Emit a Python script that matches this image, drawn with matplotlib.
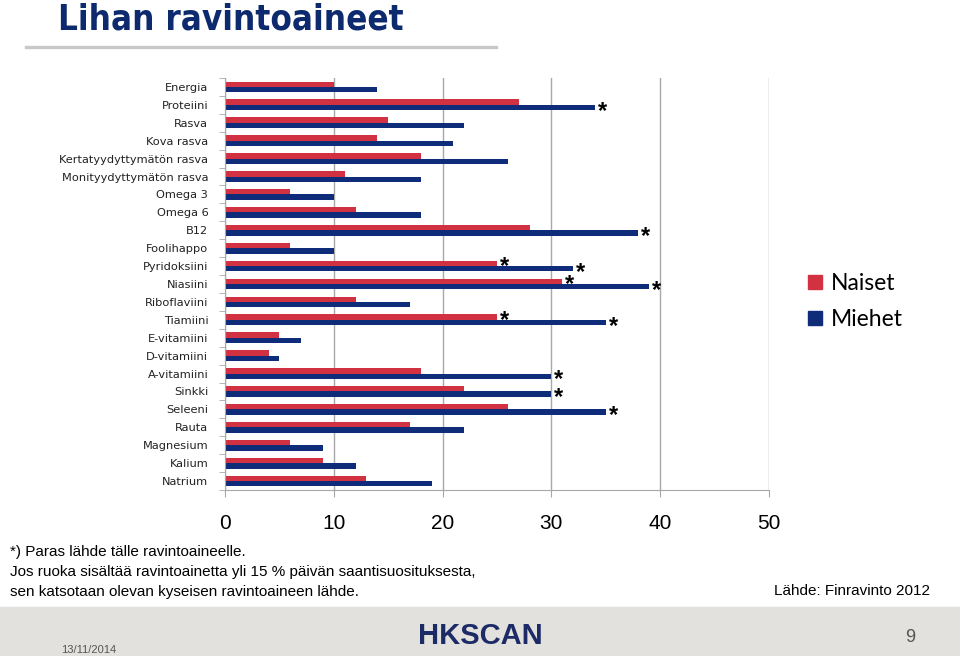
import matplotlib
matplotlib.use("Agg")
import matplotlib.pyplot as plt
from matplotlib.patches import Patch, Rectangle
from matplotlib.lines import Line2D
import numpy as np

categories = ["Energia", "Proteiini", "Rasva", "Kova rasva",
              "Kertatyydyttymätön rasva", "Monityydyttymätön rasva",
              "Omega 3", "Omega 6", "B12", "Foolihappo", "Pyridoksiini",
              "Niasiini", "Riboflaviini", "Tiamiini", "E-vitamiini",
              "D-vitamiini", "A-vitamiini", "Sinkki", "Seleeni", "Rauta",
              "Magnesium", "Kalium", "Natrium"]
naiset = [10, 27, 15, 14, 18, 11, 6, 12, 28, 6, 25, 31, 12, 25, 5, 4, 18,
          22, 26, 17, 6, 9, 13]
miehet = [14, 34, 22, 21, 26, 18, 10, 18, 38, 10, 32, 39, 17, 35, 7, 5, 30,
          30, 35, 22, 9, 12, 19]
# which bars are marked "best source" (*)
star_naiset = ["Pyridoksiini", "Niasiini", "Tiamiini"]
star_miehet = ["Proteiini", "B12", "Pyridoksiini", "Niasiini", "Tiamiini",
               "A-vitamiini", "Sinkki", "Seleeni"]
xticks = [0, 10, 20, 30, 40, 50]

red = "#d23142"
blue = "#0f2c7a"
grid_col = "#a8a8a8"

fig = plt.figure(figsize=(9.6, 6.56), dpi=100)
ax = fig.add_axes([225 / 960, 1 - 490 / 656, 544 / 960, 412 / 656])

y = np.arange(len(categories))
h = 0.3
ax.barh(y - h / 2, naiset, height=h, color=red, label="Naiset")
ax.barh(y + h / 2, miehet, height=h, color=blue, label="Miehet")

for i, c in enumerate(categories):
    if c in star_naiset:
        ax.text(naiset[i] + 0.25, i - h / 2 + 0.2, "*", fontsize=17,
                ha="left", va="center", family="Liberation Sans",
                fontweight="bold")
    if c in star_miehet:
        ax.text(miehet[i] + 0.25, i + h / 2 + 0.2, "*", fontsize=17,
                ha="left", va="center", family="Liberation Sans",
                fontweight="bold")

ax.set_xlim(0, 50)
ax.set_ylim(len(categories) - 0.5, -0.5)
ax.set_xticks(xticks)
ax.set_xticklabels([str(t) for t in xticks], family="Liberation Sans",
                   fontsize=15)
ax.set_yticks(y)
ax.set_yticklabels(categories, family="DejaVu Sans", fontsize=8.2,
                   color="#222222")
ax.set_yticks(np.arange(len(categories) + 1) - 0.5, minor=True)
ax.tick_params(axis="y", which="major", length=0, pad=12)
ax.tick_params(axis="y", which="minor", length=4, color=grid_col)
ax.tick_params(axis="x", length=5, color=grid_col, pad=12)
ax.grid(axis="x", color=grid_col, linewidth=1)
ax.set_axisbelow(True)
for s in ["top", "right"]:
    ax.spines[s].set_visible(False)
for s in ["left", "bottom"]:
    ax.spines[s].set_color(grid_col)

fig.legend(handles=[Patch(color=red), Patch(color=blue)],
           labels=["Naiset", "Miehet"], loc="upper left",
           bbox_to_anchor=(0.82, 0.615), frameon=False,
           prop={"family": "Lato", "size": 16.5}, handlelength=0.6,
           handleheight=0.6, handletextpad=0.4, labelspacing=0.65)

# title and header line
fig.text(58 / 960, 1 - 20 / 656, "Lihan ravintoaineet", color="#0d2a6e",
         fontsize=25, fontweight="bold", fontstretch="condensed",
         family="DejaVu Sans", va="center", ha="left")
fig.add_artist(Line2D([26 / 960, 496 / 960], [1 - 47 / 656, 1 - 47 / 656],
                      color="#c8c8c8", linewidth=2.4))

# footnotes
notes = ["*) Paras lähde tälle ravintoaineelle.",
         "Jos ruoka sisältää ravintoainetta yli 15 % päivän saantisuosituksesta,",
         "sen katsotaan olevan kyseisen ravintoaineen lähde."]
for k, line in enumerate(notes):
    fig.text(10 / 960, 1 - (552 + 20 * k) / 656, line, fontsize=11,
             family="Liberation Sans", va="center", ha="left")
fig.text(930 / 960, 1 - 591 / 656, "Lähde: Finravinto 2012", fontsize=11,
         family="Liberation Sans", va="center", ha="right")

# footer band
fig.add_artist(Rectangle((0, 0), 1, 1 - 607 / 656, transform=fig.transFigure,
                         color="#e2e1dd", zorder=-1))
fig.text(89 / 960, 1 - 650 / 656, "13/11/2014", fontsize=8, color="#555555",
         family="Liberation Sans", ha="center", va="center")
fig.text(480 / 960, 1 - 636 / 656, "HKSCAN", fontsize=21, fontweight="bold",
         color="#1c2a66", family="Liberation Sans", ha="center", va="center")
fig.text(910 / 960, 1 - 638 / 656, "9", fontsize=13, color="#555555",
         family="Liberation Sans", ha="center", va="center")

fig.savefig("out.png", dpi=100)
